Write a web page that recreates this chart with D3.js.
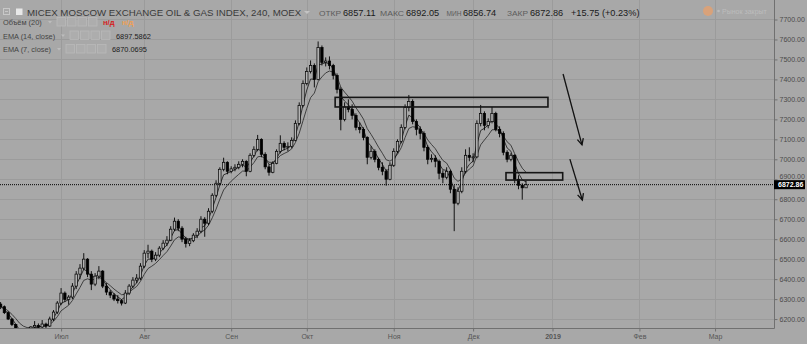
<!DOCTYPE html>
<html>
<head>
<meta charset="utf-8">
<script src="https://cdnjs.cloudflare.com/ajax/libs/d3/7.8.5/d3.min.js"></script>
<style>
body { margin:0; background:#a8a8a8; }
svg { display:block; font-family:"Liberation Sans", Arial, sans-serif; }
</style>
</head>
<body>
<div id="chart"></div>
<script>
// one candle per trading day, index 0 = mid June 2018
var opens = [6275,6262,6232,6200,6172,6140,6110,6120,6135,6160,6168,6160,6175,6165,6200,6235,6280,6330,6298,6310,
6365,6425,6455,6500,6425,6375,6415,6440,6365,6335,6320,6300,6292,6280,6330,6365,6395,6405,6465,6530,
6540,6500,6520,6555,6580,6595,6650,6690,6655,6600,6578,6592,6620,6640,6700,6680,6740,6820,6880,6950,
6985,6940,6952,6960,6975,6990,6940,7020,7050,7100,7025,6962,6935,6980,7040,7080,7060,7065,7095,7180,
7270,7380,7440,7470,7400,7560,7485,7492,7470,7420,7350,7200,7262,7250,7220,7160,7150,7110,7010,7040,
7000,6960,6940,6900,6970,7040,7090,7160,7260,7290,7190,7150,7130,7060,7000,7005,6990,6930,6910,6940,
6850,6780,6840,6940,7020,7010,7012,7180,7230,7170,7190,7230,7150,7130,7035,7000,7020,6900,6870,6857.11];
var highs = [6285,6268,6240,6205,6176,6150,6130,6145,6165,6190,6178,6195,6182,6212,6245,6290,6355,6338,6320,6380,
6440,6475,6530,6505,6440,6430,6465,6445,6380,6345,6330,6320,6300,6345,6375,6410,6425,6480,6545,6572,
6548,6535,6565,6595,6615,6665,6708,6700,6665,6612,6605,6630,6655,6715,6710,6755,6830,6895,6960,7008,
6990,6965,6975,6990,7000,6995,7030,7065,7122,7105,7035,6975,6990,7050,7120,7090,7085,7110,7195,7285,
7395,7460,7495,7480,7590,7570,7510,7515,7478,7430,7360,7285,7300,7275,7230,7185,7160,7115,7065,7050,
7008,6985,6950,6985,7055,7100,7175,7275,7322,7300,7200,7165,7140,7070,7025,7020,6998,6945,6960,6948,
6870,6860,6960,7050,7060,7030,7195,7272,7240,7205,7262,7238,7165,7140,7045,7030,7025,6920,6880,6892.05];
var lows = [6250,6225,6195,6165,6130,6100,6095,6110,6128,6150,6152,6155,6155,6160,6190,6225,6270,6285,6272,6300,
6350,6400,6445,6410,6345,6365,6400,6355,6320,6305,6290,6278,6268,6275,6320,6355,6380,6395,6455,6505,
6485,6490,6510,6545,6565,6590,6640,6640,6585,6558,6565,6585,6605,6630,6612,6670,6730,6810,6870,6940,
6925,6930,6940,6950,6960,6915,6935,7010,7040,7010,6950,6918,6930,6975,7030,7045,7040,7055,7090,7170,
7260,7370,7430,7360,7395,7470,7465,7450,7400,7330,7145,7190,7235,7200,7145,7130,7095,6975,7000,6985,
6945,6920,6868,6895,6962,7030,7080,7150,7240,7175,7120,7100,7040,6975,6985,6960,6900,6880,6900,6830,
6640,6770,6830,6930,6990,6985,7005,7165,7145,7155,7180,7140,7110,7020,6985,6990,6880,6850,6798,6856.74];
var closes = [6262,6232,6200,6172,6140,6110,6120,6135,6160,6168,6160,6175,6165,6200,6235,6280,6330,6298,6310,6365,
6425,6455,6500,6425,6375,6415,6440,6365,6335,6320,6300,6292,6280,6330,6365,6395,6405,6465,6530,6540,
6500,6520,6555,6580,6595,6650,6690,6655,6600,6578,6592,6620,6640,6700,6680,6740,6820,6880,6950,6985,
6940,6952,6960,6975,6990,6940,7020,7050,7100,7025,6962,6935,6980,7040,7080,7060,7065,7095,7180,7270,
7380,7440,7470,7400,7560,7485,7492,7470,7420,7350,7200,7262,7250,7220,7160,7150,7110,7010,7040,7000,
6960,6940,6900,6970,7040,7090,7160,7260,7290,7190,7150,7130,7060,7000,7005,6990,6930,6910,6940,6850,
6780,6840,6940,7020,7010,7012,7180,7230,7170,7190,7230,7150,7130,7035,7000,7020,6900,6870,6857,6872.86];

var monthLabels = ["Июл","Авг","Сен","Окт","Ноя","Дек","2019","Фев","Мар"];
var monthIdx = [16, 38, 61, 81, 104, 125, 146, 169, 189];
var priceTicks = [6200,6300,6400,6500,6600,6700,6800,6900,7000,7100,7200,7300,7400,7500,7600,7700];
var lastPrice = 6872.86;

// drawn boxes and arrows: [index1, price1, index2, price2]
var boxes = [[88.5, 7310, 144.8, 7262], [133.7, 6933, 148.7, 6896]];
var arrows = [[148.8, 7427, 153.8, 7072], [150.6, 7001, 153.9, 6796]];

var W = 807, H = 344;
var plotR = 774, plotB = 328;

var x = d3.scaleLinear().domain([-0.16, 204.6]).range([0, plotR]);
var y = d3.scaleLinear().domain([6155.2, 7797.6]).range([plotB, 0]);

var svg = d3.select("#chart").append("svg")
    .attr("width", W).attr("height", H);

svg.append("rect").attr("width", W).attr("height", H).attr("fill", "#a8a8a8");

svg.append("defs").append("clipPath").attr("id", "plotclip")
    .append("rect").attr("width", plotR).attr("height", plotB);

// grid
var grid = svg.append("g");
grid.selectAll("line.h").data(priceTicks).enter().append("line")
    .attr("x1", 0).attr("x2", plotR)
    .attr("y1", function(d){ return Math.round(y(d)) + 0.5; })
    .attr("y2", function(d){ return Math.round(y(d)) + 0.5; })
    .attr("stroke", "#9b9b9b").attr("stroke-width", 1);
grid.selectAll("line.v").data(monthIdx).enter().append("line")
    .attr("y1", 0).attr("y2", plotB)
    .attr("x1", function(d){ return Math.round(x(d)) + 0.5; })
    .attr("x2", function(d){ return Math.round(x(d)) + 0.5; })
    .attr("stroke", "#9b9b9b").attr("stroke-width", 1);

var plot = svg.append("g").attr("clip-path", "url(#plotclip)");

// EMA on daily candles; 14 and 7 four-hour bars ~ 7 and 3.5 days
function ema(values, period) {
    var k = 2 / (period + 1), prev = values[0];
    return values.map(function(v, i){
        prev = i == 0 ? v : v * k + prev * (1 - k);
        return prev;
    });
}
var ema14 = ema(closes, 7);
var ema7 = ema(closes, 3.5);
var line = d3.line().x(function(d, i){ return x(i); }).y(function(d){ return y(d); });
plot.append("path").attr("d", line(ema14)).attr("fill", "none").attr("stroke", "#333").attr("stroke-width", 0.9);
plot.append("path").attr("d", line(ema7)).attr("fill", "none").attr("stroke", "#222").attr("stroke-width", 0.9);

// candles
var bw = 2.4;
var candles = plot.selectAll("g.c").data(closes).enter().append("g");
candles.append("line")
    .attr("x1", function(d, i){ return x(i); })
    .attr("x2", function(d, i){ return x(i); })
    .attr("y1", function(d, i){ return y(highs[i]); })
    .attr("y2", function(d, i){ return y(lows[i]); })
    .attr("stroke", "#000").attr("stroke-width", 0.9);
candles.append("rect")
    .attr("x", function(d, i){ return x(i) - bw / 2; })
    .attr("y", function(d, i){ return y(Math.max(opens[i], d)); })
    .attr("width", bw)
    .attr("height", function(d, i){ return Math.max(1, Math.abs(y(opens[i]) - y(d))); })
    .attr("fill", function(d, i){ return d >= opens[i] ? "#b4b4b4" : "#000"; })
    .attr("stroke", "#000").attr("stroke-width", 0.7);

// last price dotted line
plot.append("line")
    .attr("x1", 0).attr("x2", plotR)
    .attr("y1", y(lastPrice)).attr("y2", y(lastPrice))
    .attr("stroke", "#000").attr("stroke-width", 1).attr("stroke-dasharray", "1,1");

// user drawings
plot.selectAll("rect.box").data(boxes).enter().append("rect")
    .attr("x", function(d){ return x(d[0]); })
    .attr("y", function(d){ return y(d[1]); })
    .attr("width", function(d){ return x(d[2]) - x(d[0]); })
    .attr("height", function(d){ return y(d[3]) - y(d[1]); })
    .attr("fill", "none").attr("stroke", "#151515").attr("stroke-width", 1.6);

arrows.forEach(function(a){
    var x1 = x(a[0]), y1 = y(a[1]), x2 = x(a[2]), y2 = y(a[3]);
    var ang = Math.atan2(y2 - y1, x2 - x1), len = 7, spread = 0.45;
    var g = plot.append("g").attr("stroke", "#111").attr("stroke-width", 1.3).attr("fill", "none");
    g.append("line").attr("x1", x1).attr("y1", y1).attr("x2", x2).attr("y2", y2);
    g.append("path").attr("d",
        "M" + (x2 - len * Math.cos(ang - spread)) + "," + (y2 - len * Math.sin(ang - spread)) +
        "L" + x2 + "," + y2 +
        "L" + (x2 - len * Math.cos(ang + spread)) + "," + (y2 - len * Math.sin(ang + spread)));
});

// axes
svg.append("line").attr("x1", plotR + 0.5).attr("x2", plotR + 0.5).attr("y1", 0).attr("y2", plotB + 0.5)
    .attr("stroke", "#707070").attr("stroke-width", 1);
svg.append("line").attr("x1", 0).attr("x2", plotR + 0.5).attr("y1", plotB + 0.5).attr("y2", plotB + 0.5)
    .attr("stroke", "#707070").attr("stroke-width", 1);

var yAxis = d3.axisRight(y).tickValues(priceTicks).tickSize(3).tickPadding(2)
    .tickFormat(function(d){ return d.toFixed(2); });
var ya = svg.append("g").attr("transform", "translate(" + (plotR + 0.5) + ",0)").call(yAxis);
ya.select(".domain").remove();
ya.selectAll("line").attr("stroke", "#707070");
ya.selectAll("text").attr("fill", "#4a4a4a").style("font-size", "7px").style("font-family", "Liberation Sans, Arial, sans-serif");
// the 6900 label sits under the last-price marker; only its top shows
ya.selectAll(".tick").filter(function(d){ return d == 6900; }).select("text").attr("dy", "-0.05em");

var xAxis = d3.axisBottom(x).tickValues(monthIdx).tickSize(3).tickPadding(3)
    .tickFormat(function(d, i){ return monthLabels[i]; });
var xa = svg.append("g").attr("transform", "translate(0," + (plotB + 0.5) + ")").call(xAxis);
xa.select(".domain").remove();
xa.selectAll("line").attr("stroke", "#707070");
xa.selectAll("text").attr("fill", "#555").style("font-size", "7px").style("font-family", "Liberation Sans, Arial, sans-serif")
    .style("font-weight", function(d, i){ return monthLabels[i] == "2019" ? "bold" : "normal"; });

// last price label
var lp = svg.append("g").attr("transform", "translate(" + plotR + "," + y(lastPrice) + ")");
lp.append("rect").attr("x", 0).attr("y", -4.5).attr("width", 31).attr("height", 9).attr("fill", "#000");
lp.append("text").attr("x", 4).attr("y", 2.6).attr("fill", "#fff").style("font-size", "7px")
    .style("font-weight", "bold").text(lastPrice.toFixed(2));

// header / legend
var hdr = svg.append("g");
hdr.append("rect").attr("x", 3.5).attr("y", 8.5).attr("width", 6).attr("height", 6)
    .attr("fill", "none").attr("stroke", "#c8c8c8");
hdr.append("line").attr("x1", 5).attr("x2", 8).attr("y1", 11.5).attr("y2", 11.5).attr("stroke", "#c8c8c8");
hdr.append("rect").attr("x", 16).attr("y", 8.5).attr("width", 6.5).attr("height", 6.5).attr("fill", "#e8e8e8");
hdr.append("text").attr("x", 27).attr("y", 16).attr("fill", "#3a3a3a").style("font-size", "9.7px")
    .text("MICEX MOSCOW EXCHANGE OIL & GAS INDEX, 240, MOEX");
hdr.append("path").attr("d", "M304,11 L310,11 L307,14 Z").attr("fill", "#c4c4c4");

// label, label x, label width, value, value x
var ohlc = [["ОТКР", 319, 22, 6857.11, 343], ["МАКС", 380, 24, 6892.05, 406], ["МИН", 446.5, 15, 6856.74, 463], ["ЗАКР", 507, 21, 6872.86, 530]];
ohlc.forEach(function(o){
    hdr.append("text").attr("x", o[1]).attr("y", 16).attr("fill", "#5c5c5c").style("font-size", "8px")
        .attr("textLength", o[2]).attr("lengthAdjust", "spacingAndGlyphs").text(o[0]);
    hdr.append("text").attr("x", o[4]).attr("y", 16).attr("fill", "#1a1a1a").style("font-size", "9.2px").text(o[3].toFixed(2));
});
hdr.append("text").attr("x", 571).attr("y", 16).attr("fill", "#1a1a1a").style("font-size", "9.2px").text("+15.75 (+0.23%)");

hdr.append("circle").attr("cx", 708).attr("cy", 11).attr("r", 5).attr("fill", "#d9a27a");
hdr.append("circle").attr("cx", 718.5).attr("cy", 11).attr("r", 1.3).attr("fill", "#bcbcbc");
hdr.append("text").attr("x", 722).attr("y", 13.5).attr("fill", "#bdbdbd").style("font-size", "7px").text("Рынок закрыт");

var rows = [["Объём (20)", 25, 57], ["EMA (14, close)", 38.5, 70], ["EMA (7, close)", 52, 66]];
rows.forEach(function(r){
    hdr.append("text").attr("x", 3).attr("y", r[1]).attr("fill", "#444").style("font-size", "7.4px").text(r[0]);
    hdr.append("path").attr("d", "M" + (r[2] - 9) + "," + (r[1] - 4) + " l4,0 l-2,2.5 Z").attr("fill", "#bdbdbd");
    for (var k = 0; k < 4; k++) {
        hdr.append("rect").attr("x", r[2] + k * 10.5).attr("y", r[1] - 7.5).attr("width", 8.5).attr("height", 8.5)
            .attr("fill", "#adadad").attr("stroke", "#b9b9b9").attr("stroke-width", 0.8);
    }
});
hdr.append("text").attr("x", 103).attr("y", 25).attr("fill", "#d41c1c").style("font-size", "7.6px").style("font-weight", "bold").text("н/д");
hdr.append("text").attr("x", 122).attr("y", 25).attr("fill", "#eea055").style("font-size", "7.6px").style("font-weight", "bold").text("н/д");
hdr.append("text").attr("x", 116).attr("y", 38.5).attr("fill", "#1a1a1a").style("font-size", "7.4px").text("6897.5862");
hdr.append("text").attr("x", 112).attr("y", 52).attr("fill", "#1a1a1a").style("font-size", "7.4px").text("6870.0695");
</script>
</body>
</html>
